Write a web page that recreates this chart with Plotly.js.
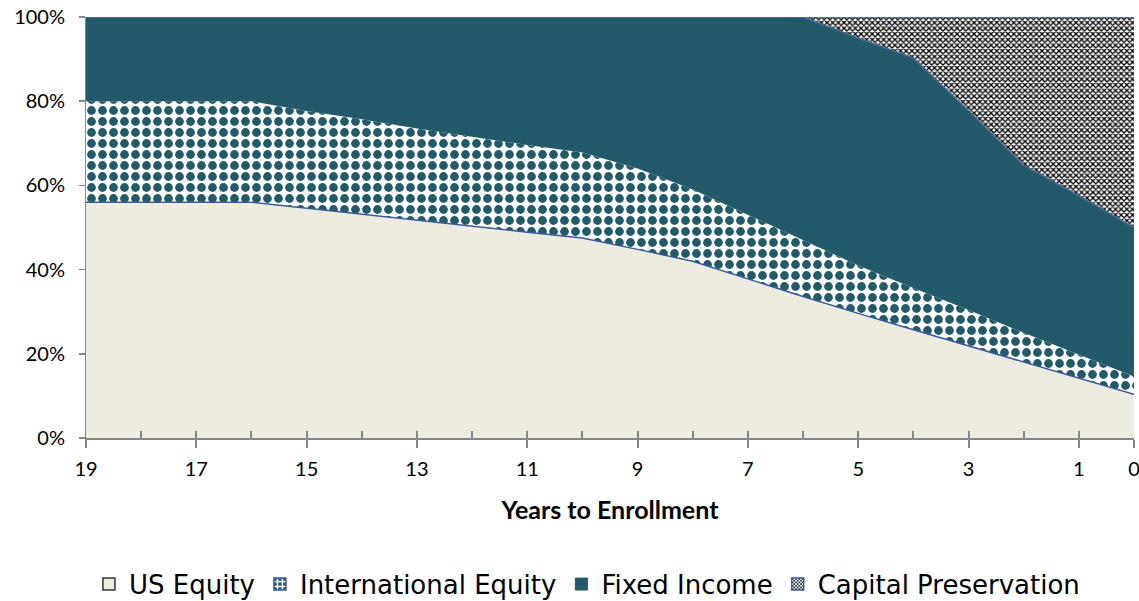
<!DOCTYPE html>
<html>
<head>
<meta charset="utf-8">
<script src="https://cdn.plot.ly/plotly-3.0.1.min.js"></script>
<style>
html,body{margin:0;padding:0;background:#fff;}
#chart{width:1139px;height:601px;}
</style>
</head>
<body>
<div id="chart"></div>
<script>
// Years to enrollment (x categories)
var years = [19,18,17,16,15,14,13,12,11,10,9,8,7,6,5,4,3,2,1,0];
// Allocation (% of portfolio) per year
var usEquity        = [56,56,56,56,54.6,53.2,51.8,50.3,48.9,47.5,44.8,42,37.8,33.6,29.6,25.7,21.8,18,14.2,10.4];
var intlEquity      = [24,24,24,24,23.1,22.5,21.7,21.3,20.7,20.3,19.2,17,15.2,13.4,11.4,9.9,8.6,7,5.6,4.2];
var fixedIncome     = [20,20,20,20,22.3,24.3,26.5,28.4,30.4,32.2,36,41,47,53,54,54.7,47.4,39.8,37.8,35.4];
var capPreservation = [0,0,0,0,0,0,0,0,0,0,0,0,0,0,5,9.7,22.2,35.2,42.4,50];
// Tick labels
var xTickVals = [19,17,15,13,11,9,7,5,3,1,0];
var xTickText = ['19','17','15','13','11','9','7','5','3','1','0'];
var yTickVals = [0,20,40,60,80,100];
var yTickText = ['0%','20%','40%','60%','80%','100%'];
var seriesNames = ['US Equity','International Equity','Fixed Income','Capital Preservation'];

var TEAL = '#235A69';
var BEIGE = '#EEEBE0';
var FONT = 'Lato, "Noto Sans", sans-serif';

var intlPattern = {shape:'.', fgcolor:TEAL, bgcolor:'#ffffff', size:11, solidity:0.5};
var cpPattern = {shape:'x', fgcolor:'#000000', bgcolor:'#ffffff', size:4, solidity:0.55};

var traces = [
  {name:seriesNames[0], x:years, y:usEquity, stackgroup:'one', mode:'lines', showlegend:false,
   line:{color:'#3A5A98', width:1.5}, fillcolor:BEIGE, hoverinfo:'skip'},
  {name:seriesNames[1], x:years, y:intlEquity, stackgroup:'one', mode:'lines', showlegend:false,
   line:{color:'rgba(0,0,0,0)', width:0}, fillpattern:intlPattern,
   fillcolor:'#ffffff', hoverinfo:'skip'},
  {name:seriesNames[2], x:years, y:fixedIncome, stackgroup:'one', mode:'lines', showlegend:false,
   line:{color:'#4A6B9A', width:1.5}, fillcolor:TEAL, hoverinfo:'skip'},
  {name:seriesNames[3], x:years, y:capPreservation, stackgroup:'one', mode:'lines', showlegend:false,
   line:{color:'#4F6E9A', width:1.5}, fillpattern:cpPattern,
   fillcolor:'#ffffff', hoverinfo:'skip'},
  // legend-only entries (no drawable data) to get square swatches
  {type:'bar', name:seriesNames[0], x:[null], y:[null], marker:{color:BEIGE, line:{color:'#333333', width:1.5}}, hoverinfo:'skip'},
  {type:'bar', name:seriesNames[1], x:[null], y:[null], marker:{color:TEAL, line:{color:'#3A5A98', width:1.5},
     pattern:{shape:'+', fgcolor:'#ffffff', bgcolor:TEAL, size:6, solidity:0.5}}, hoverinfo:'skip'},
  {type:'bar', name:seriesNames[2], x:[null], y:[null], marker:{color:TEAL, line:{color:TEAL, width:1}}, hoverinfo:'skip'},
  {type:'bar', name:seriesNames[3], x:[null], y:[null], marker:{color:'#ffffff', line:{color:'#3A5A98', width:1.5},
     pattern:{shape:'x', fgcolor:'#000000', bgcolor:'#ffffff', size:3, solidity:0.5}}, hoverinfo:'skip'},
  {x:[null], y:[null], xaxis:'x2', mode:'lines', showlegend:false, hoverinfo:'skip'}
];

var layout = {
  width:1139, height:601,
  margin:{l:86, r:5, t:17, b:163},
  paper_bgcolor:'#ffffff', plot_bgcolor:'#ffffff',
  font:{family:FONT, color:'#000000', size:20},
  showlegend:true,
  legend:{orientation:'h', x:0.478, xanchor:'center', yref:'container', y:0.028, yanchor:'middle',
          font:{family:'"DejaVu Sans", "Noto Sans", sans-serif', size:26, color:'#000'}, traceorder:'normal', itemwidth:30},
  xaxis:{range:[19.0001,-0.0001], tickmode:'array', tickvals:xTickVals, ticktext:xTickText,
         showgrid:false, zeroline:false, showline:true, linecolor:'#868686', linewidth:2,
         ticks:'outside', ticklen:8, tickcolor:'#868686', tickwidth:2, ticklabelstandoff:4,
         ticklabeloverflow:'allow',
         tickfont:{family:FONT, size:20, color:'#000'},
         title:{text:'<b>Years to Enrollment</b>', font:{family:FONT, size:25, color:'#000'}, standoff:22}},
  xaxis2:{range:[19.0001,-0.0001], overlaying:'x', anchor:'y', side:'bottom', tickmode:'array',
          tickvals:years, ticktext:years.map(function(){return '';}),
          showticklabels:false, ticks:'inside', ticklen:7, tickcolor:'#868686', tickwidth:2,
          showgrid:false, zeroline:false, showline:false},
  yaxis:{range:[0,100], tickmode:'array', tickvals:yTickVals, ticktext:yTickText,
         showgrid:false, zeroline:false, showline:true, linecolor:'#868686', linewidth:1,
         ticks:'outside', ticklen:6, tickcolor:'#868686', tickwidth:1.5, ticklabelstandoff:10,
         tickfont:{family:FONT, size:20, color:'#000'}},
  barmode:'overlay'
};

Plotly.newPlot('chart', traces, layout, {displayModeBar:false, staticPlot:true});
</script>
</body>
</html>
